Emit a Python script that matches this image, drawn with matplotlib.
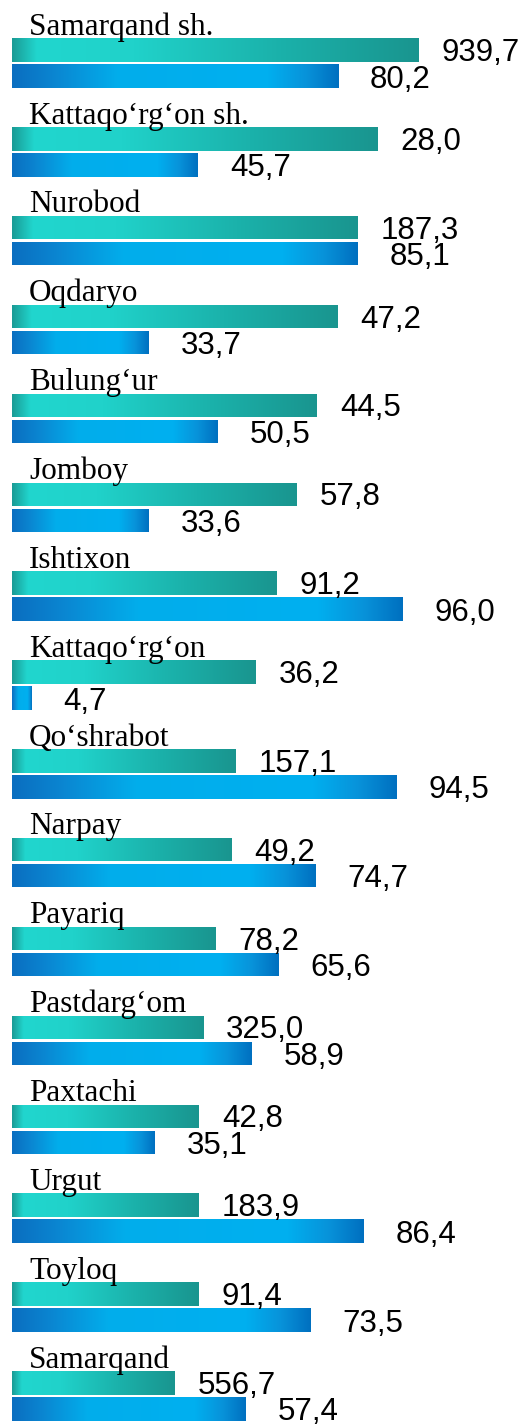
import matplotlib
matplotlib.use("Agg")
import matplotlib.pyplot as plt
import numpy as np
from matplotlib.colors import LinearSegmentedColormap

# ---- data ----
categories = ["Samarqand sh.", "Kattaqo\u2018rg\u2018on sh.", "Nurobod", "Oqdaryo",
              "Bulung\u2018ur", "Jomboy", "Ishtixon", "Kattaqo\u2018rg\u2018on",
              "Qo\u2018shrabot", "Narpay", "Payariq", "Pastdarg\u2018om",
              "Paxtachi", "Urgut", "Toyloq", "Samarqand"]
teal_labels = [939.7, 28.0, 187.3, 47.2, 44.5, 57.8, 91.2, 36.2,
               157.1, 49.2, 78.2, 325.0, 42.8, 183.9, 91.4, 556.7]
teal_bar = [100, 90, 85, 80, 75, 70, 65, 60, 55, 54, 50, 47, 46, 46, 46, 40]
blue_values = [80.2, 45.7, 85.1, 33.7, 50.5, 33.6, 96.0, 4.7,
               94.5, 74.7, 65.6, 58.9, 35.1, 86.4, 73.5, 57.4]

W, H, DPI = 530, 1425, 100
fig = plt.figure(figsize=(W / DPI, H / DPI), dpi=DPI)
ax = fig.add_axes([0, 0, 1, 1])
ax.set_axis_off()

pitch = 88.86          # px per group
ppu = 4.065            # px per x unit
x0 = 12.0              # px of x=0
c0 = 63.0              # px of first group center
bh = 23.5 / pitch
off = 13.0 / pitch

teal_cmap = LinearSegmentedColormap.from_list(
    "teal", [(0.0, "#1a9c96"), (0.06, "#21d6ce"), (0.3, "#20d2ca"),
             (0.65, "#1bb2ab"), (1.0, "#19958f")])
blue_cmap = LinearSegmentedColormap.from_list(
    "blue", [(0.0, "#0a6ec0"), (0.12, "#0b84d0"), (0.32, "#02adeb"),
             (0.78, "#00b0f0"), (0.9, "#0893da"), (1.0, "#0070c0")])

grad = np.linspace(0, 1, 256).reshape(1, -1)
y = np.arange(len(categories))

tb = ax.barh(y - off, teal_bar, height=bh, color="none", edgecolor="none")
bb = ax.barh(y + off, blue_values, height=bh, color="none", edgecolor="none")

for bars, cmap in ((tb, teal_cmap), (bb, blue_cmap)):
    for p in bars:
        xx, yy = p.get_x(), p.get_y()
        w, h = p.get_width(), p.get_height()
        im = ax.imshow(grad, cmap=cmap, aspect="auto",
                       extent=(xx, xx + w, yy + h, yy), zorder=2,
                       interpolation="bilinear")
        im.set_clip_path(p)

fmt = lambda v: f"{v:.1f}".replace(".", ",")
serif = ["Liberation Serif", "DejaVu Serif"]
sans = ["Liberation Sans", "DejaVu Sans"]

for i, name in enumerate(categories):
    ax.annotate(name, xy=(0, i - 28.3 / pitch), xytext=(17, 0),
                textcoords="offset pixels", ha="left", va="baseline",
                fontsize=22.5, family=serif, color="black", zorder=5)
    ax.annotate(fmt(teal_labels[i]), xy=(teal_bar[i], i - 2.0 / pitch),
                xytext=(23, 0), textcoords="offset pixels",
                ha="left", va="baseline", fontsize=22.5, family=sans,
                color="black", zorder=5)
    ax.annotate(fmt(blue_values[i]), xy=(blue_values[i], i + 24.5 / pitch),
                xytext=(32, 0), textcoords="offset pixels",
                ha="left", va="baseline", fontsize=22.5, family=sans,
                color="black", zorder=5)

ax.set_xlim(-x0 / ppu, (W - x0) / ppu)
ax.set_ylim((H - c0) / pitch, -c0 / pitch)

fig.savefig("out.png", dpi=DPI, facecolor="white")
